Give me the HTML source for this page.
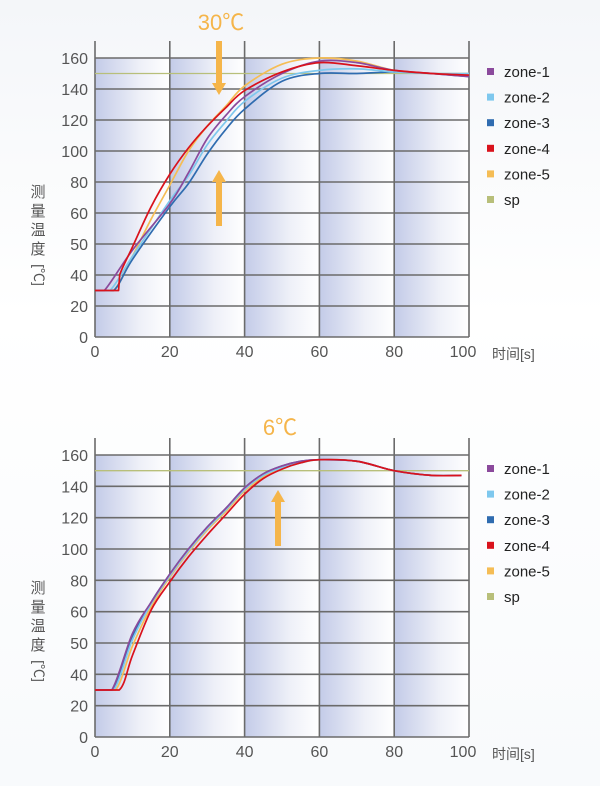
<!DOCTYPE html>
<html><head><meta charset="utf-8">
<style>
html,body{margin:0;padding:0;}
body{width:600px;height:786px;overflow:hidden;background:linear-gradient(180deg,#f4f6f9 0%,#ffffff 40%,#f8fafc 100%);font-family:"Liberation Sans","Noto Sans CJK SC",sans-serif;}
svg{position:absolute;left:0;top:0;}
</style></head>
<body>
<svg id="root" width="600" height="786" viewBox="0 0 600 786" xmlns="http://www.w3.org/2000/svg">
<defs>
<linearGradient id="band" x1="0" y1="0" x2="1" y2="0">
<stop offset="0" stop-color="#c3cbe8"/><stop offset="0.6" stop-color="#eef0f8"/><stop offset="1" stop-color="#ffffff"/>
</linearGradient>
</defs>
</svg>
<script>
// ---- data ----
const yTickLabels = [0,20,40,50,60,80,100,120,140,160];
const xTickLabels = [0,20,40,60,80,100];
const seriesNames = ["zone-1","zone-2","zone-3","zone-4","zone-5","sp"];
const seriesColors = ["#8b4a9c","#7ec8ee","#2f6cb0","#d9121c","#f5bd55","#b8bf7a"];

const top_zone1_x = [0,2.5,10,20,25,30,35,40,50,60,70,80,90,100];
const top_zone1_y = [30,30,48,66,86,108,123,135,150,158,157,152,150,148];
const top_zone2_x = [0,4,10,20,25,30,35,40,50,60,70,80,90,100];
const top_zone2_y = [30,30,46,68,84,104,119,132,147,152,153,151,150,150];
const top_zone3_x = [0,5,10,20,25,30,35,40,50,60,70,80,90,100];
const top_zone3_y = [30,30,45,64,79,98,114,127,145,150,150,151,150,148];
const top_zone4_x = [0,6.3,6.6,10,15,20,25,30,35,40,50,60,70,80,90,100];
const top_zone4_y = [30,30,40,49,64,85,102,116,128,139,151,157,155,152,150,149];
const top_zone5_x = [0,5,10,15,20,25,30,35,40,50,60,70,80,90,100];
const top_zone5_y = [30,30,46,58,78,100,116,129,142,156,160,158,152,150,150];
const top_sp_x = [0,100];
const top_sp_y = [150,150];

const bot_zone1_x = [0,4.5,10,15,20,25,30,35,40,45,50,55,60,70,80,90,98];
const bot_zone1_y = [30,30,53,66,84,100,114,126,139,148,153,156,157,156,150,147,147];
const bot_zone2_x = [0,5,10,15,20,25,30,35,40,45,50,55,60,70,80,90,98];
const bot_zone2_y = [30,30,51,65,83,99,113,125,138,147,152,155,157,156,150,147,147];
const bot_zone3_x = [0,4.8,10,15,20,25,30,35,40,45,50,55,60,70,80,90,98];
const bot_zone3_y = [30,30,52,66,84,100,114,126,139,148,153,156,157,156,150,147,147];
const bot_zone4_x = [0,6.5,10,15,20,25,30,35,40,45,50,55,60,70,80,90,98];
const bot_zone4_y = [30,30,46,61,79,95,109,122,135,145,151,155,157,156,150,147,147];
const bot_zone5_x = [0,5.5,10,15,20,25,30,35,40,45,50,55,60,70,80,90,98];
const bot_zone5_y = [30,30,49,63,82,98,112,124,137,146,152,155,157,156,150,147,147];
const bot_sp_x = [0,100];
const bot_sp_y = [150,150];

const NS = "http://www.w3.org/2000/svg";
const root = document.getElementById("root");
function mk(tag, attrs, parent){const e=document.createElementNS(NS,tag);for(const k in attrs)e.setAttribute(k,attrs[k]);(parent||root).appendChild(e);return e;}

function drawChart(cfg, seriesX, seriesY){
  const L=95,R=469,top=cfg.top,bottom=cfg.bottom,gTop=cfg.gTop;
  const n=yTickLabels.length-1;
  const xS=v=>L+(v-xTickLabels[0])/(xTickLabels[xTickLabels.length-1]-xTickLabels[0])*(R-L);
  const yS=v=>{for(let i=0;i<n;i++){const a=yTickLabels[i],b=yTickLabels[i+1];if(v<=b||i===n-1){const t=(v-a)/(b-a);return bottom-(i+t)*(bottom-top)/n;}}return top;};
  const g=mk("g",{});
  
  
  for(let i=0;i<xTickLabels.length-1;i++){
    const r=mk("rect",{x:xS(xTickLabels[i]),y:top,width:xS(xTickLabels[i+1])-xS(xTickLabels[i]),height:bottom-top,fill:"url(#band)"},g);
    
    
  }
  yTickLabels.forEach((v,i)=>{
    const y=bottom-i*(bottom-top)/n;
    const l=mk("line",{x1:L,x2:R,y1:y,y2:y,stroke:"#6b6b6b","stroke-width":1.6},g);
    
    
    const t=mk("text",{x:88,y:y+6,"text-anchor":"end","font-size":16,fill:"#555"},g);
    t.textContent=v;
    
    
  });
  xTickLabels.forEach(v=>{
    const x=xS(v);
    const l=mk("line",{x1:x,x2:x,y1:gTop,y2:bottom,stroke:"#6b6b6b","stroke-width":1.6},g);
    
    
    const t=mk("text",{x:v===100?x-6:x,y:bottom+20,"text-anchor":"middle","font-size":16,fill:"#555"},g);
    t.textContent=v;
    
    
  });
  const order=[5,4,2,1,0,3];
  order.forEach(si=>{
    const px=seriesX[si].map(xS), py=seriesY[si].map(yS);
    let d="M"+px[0]+","+py[0];
    for(let i=0;i<px.length-1;i++){
      const p0=[px[Math.max(i-1,0)],py[Math.max(i-1,0)]],p1=[px[i],py[i]],p2=[px[i+1],py[i+1]],p3=[px[Math.min(i+2,px.length-1)],py[Math.min(i+2,px.length-1)]];
      const flat=(p1[1]===p2[1]&&i===0)||(p2[0]-p1[0]<3);
      if(flat){d+=" L"+p2[0]+","+p2[1];continue;}
      const c1=[p1[0]+(p2[0]-p0[0])/6,p1[1]+(p2[1]-p0[1])/6],c2=[p2[0]-(p3[0]-p1[0])/6,p2[1]-(p3[1]-p1[1])/6];
      d+=" C"+c1+" "+c2+" "+p2;
    }
    const p=mk("path",{d:d,fill:"none",stroke:seriesColors[si],"stroke-width":si===5?1.3:1.7,"stroke-linejoin":"round"},g);
    
    
  });
  seriesNames.forEach((nm,i)=>{
    const y=cfg.legendY+i*25.6;
    const r=mk("rect",{x:487,y:y-4,width:7,height:7,fill:seriesColors[i]},g);
    
    
    const t=mk("text",{x:504,y:y+5,"font-size":15,fill:"#222"},g);
    t.textContent=nm;
    
    
  });
  const xt=mk("text",{x:492,y:bottom+22,"font-size":14,fill:"#555"},g);
  xt.textContent="时间[s]";
  
  
  const chars=["测","量","温","度"];
  chars.forEach((c,i)=>{
    const t=mk("text",{x:38,y:cfg.ytitleY+i*19,"text-anchor":"middle","font-size":15,fill:"#555"},g);
    t.textContent=c;
    
    
  });
  const ut=mk("text",{x:38,y:cfg.ytitleY+4*19+6,"text-anchor":"middle","font-size":14,fill:"#555",transform:"rotate(90 38 "+(cfg.ytitleY+4*19+2)+")"},g);
  ut.textContent="[℃]";
  
  
}
function arrow(x,y1,y2,name){
  const up=y2<y1;const g=mk("g",{});
  
  
  const tipY=y2, baseY=up?y2+12:y2-12;
  mk("rect",{x:x-3,y:Math.min(y1,baseY),width:6,height:Math.abs(baseY-y1),fill:"#f5b54a"},g);
  mk("polygon",{points:(x-7)+","+baseY+" "+(x+7)+","+baseY+" "+x+","+tipY,fill:"#f5b54a"},g);
}
drawChart({name:"top-chart",top:58,bottom:337,gTop:41,legendY:72,ytitleY:197},
  [top_zone1_x,top_zone2_x,top_zone3_x,top_zone4_x,top_zone5_x,top_sp_x],
  [top_zone1_y,top_zone2_y,top_zone3_y,top_zone4_y,top_zone5_y,top_sp_y]);
drawChart({name:"bottom-chart",top:455,bottom:737,gTop:438,legendY:469,ytitleY:593},
  [bot_zone1_x,bot_zone2_x,bot_zone3_x,bot_zone4_x,bot_zone5_x,bot_sp_x],
  [bot_zone1_y,bot_zone2_y,bot_zone3_y,bot_zone4_y,bot_zone5_y,bot_sp_y]);
arrow(219,41,95,"down-arrow-top");
arrow(219,226,170,"up-arrow-top");
arrow(278,546,490,"up-arrow-bottom");
const a1=mk("text",{x:221,y:30,"text-anchor":"middle","font-size":22,fill:"#f5b54a"});
a1.textContent="30℃";


const a2=mk("text",{x:280,y:435,"text-anchor":"middle","font-size":22,fill:"#f5b54a"});
a2.textContent="6℃";


</script>
</body></html>
